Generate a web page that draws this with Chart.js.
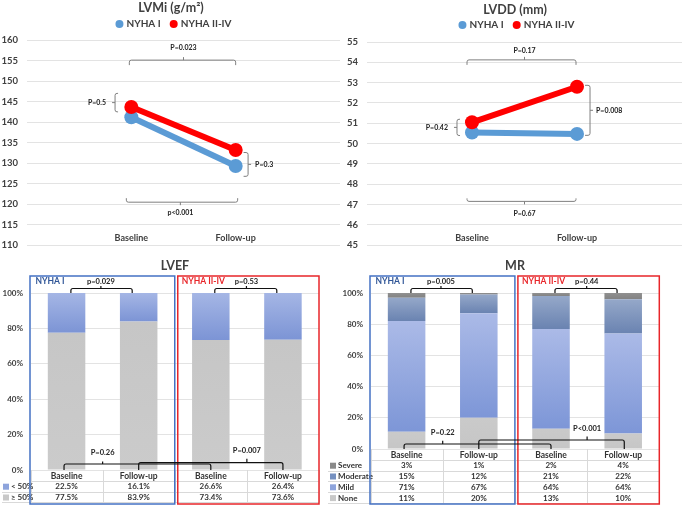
<!DOCTYPE html>
<html>
<head>
<meta charset="utf-8">
<script src="https://cdn.jsdelivr.net/npm/chart.js@4.4.1/dist/chart.umd.min.js"></script>
<style>
  body { margin: 0; background: #fff; width: 685px; height: 507px; position: relative; overflow: hidden; }
  canvas { position: absolute; }
</style>
</head>
<body>
<canvas id="lvmi" style="left:0;top:0" width="340" height="260"></canvas>
<canvas id="lvdd" style="left:340px;top:0" width="345" height="260"></canvas>
<canvas id="lvef" style="left:0;top:250px" width="340" height="257"></canvas>
<canvas id="mr" style="left:325px;top:250px" width="360" height="257"></canvas>
<script>
const FONT = 'Lato, "Open Sans", Arial, sans-serif';
const INK = '#404040';

// line charts
const timePoints = ['Baseline', 'Follow-up'];
const seriesNames = ['NYHA I', 'NYHA II-IV'];
const seriesColors = ['#5b9bd5', '#ff0000'];
const lvmiNyhaI = [141.2, 129.3];
const lvmiNyhaII = [143.7, 133.2];
const lvmiTicks = [110, 115, 120, 125, 130, 135, 140, 145, 150, 155, 160];
const lvmiP = ['P=0.023', 'p<0.001', 'P=0.5', 'P=0.3'];
const lvddNyhaI = [50.55, 50.48];
const lvddNyhaII = [51.05, 52.8];
const lvddTicks = [45, 46, 47, 48, 49, 50, 51, 52, 53, 54, 55];
const lvddP = ['P=0.17', 'P=0.67', 'P=0.42', 'P=0.008'];

// stacked bars
const barCategories = ['Baseline', 'Follow-up', 'Baseline', 'Follow-up'];
const barGroups = ['NYHA I', 'NYHA II-IV'];
const pctTicks = [0, 20, 40, 60, 80, 100];
const lvefRows = ['< 50%', '≥ 50%'];
const lvefBelow50 = [22.5, 16.1, 26.6, 26.4];
const lvefAbove50 = [77.5, 83.9, 73.4, 73.6];
const lvefP = ['p=0.029', 'p=0.53', 'P=0.26', 'P=0.007'];
const mrRows = ['Severe', 'Moderate', 'Mild', 'None'];
const mrSevere = [3, 1, 2, 4];
const mrModerate = [15, 12, 21, 22];
const mrMild = [71, 67, 64, 64];
const mrNone = [11, 20, 13, 10];
const mrP = ['p=0.005', 'p=0.44', 'P=0.22', 'P<0.001'];

function brace(ctx, horiz, a1, a2, line, end, tipAt, tip) {
  const P = (u, v) => horiz ? [u, v] : [v, u];
  ctx.beginPath();
  ctx.moveTo(...P(a1, end));
  ctx.arcTo(...P(a1, line), ...P(tipAt, line), 2);
  ctx.arcTo(...P(a2, line), ...P(a2, end), 2);
  ctx.lineTo(...P(a2, end));
  ctx.moveTo(...P(tipAt, line));
  ctx.lineTo(...P(tipAt, tip));
  ctx.stroke();
}

function drawNote(chart, n) {
  const { ctx, scales: { x, y } } = chart;
  const px = v => x.getPixelForValue(v), py = v => y.getPixelForValue(v);
  const da = n.da || [0, 0];
  let a1, a2, line, tipAt;
  if (n.h) {
    a1 = px(n.a[0]) + da[0]; a2 = px(n.a[1]) + da[1];
    line = py(n.at) + (n.dat || 0);
    tipAt = px(n.tipAt);
  } else {
    a1 = py(n.a[0]); a2 = py(n.a[1]);
    line = px(n.at);
    tipAt = (a1 + a2) / 2;
  }
  brace(ctx, n.h, a1, a2, line, line + n.end, tipAt, line + n.tip);
  ctx.textAlign = n.align || 'center';
  ctx.textBaseline = 'middle';
  if (n.h) ctx.fillText(n.t, tipAt, line + n.tdy);
  else ctx.fillText(n.t, line + n.tdx, tipAt);
}

function lineDecor(title, notes, geo) {
  return {
    id: 'lineDecor',
    afterDraw(chart) {
      const { ctx, scales: { x } } = chart;
      ctx.save();
      ctx.fillStyle = INK;
      ctx.textAlign = 'center';
      ctx.textBaseline = 'middle';
      ctx.font = 'bold 12.5px ' + FONT;
      ctx.fillText(title, geo.titleX, geo.titleY);

      // legend
      ctx.font = 'bold 10px ' + FONT;
      const w = seriesNames.map(s => ctx.measureText(s).width);
      const total = w[0] + w[1] + 2 * 12 + 8;
      let lx = geo.legendX - total / 2;
      seriesNames.forEach((s, i) => {
        ctx.fillStyle = seriesColors[i];
        ctx.beginPath();
        ctx.arc(lx + 4, geo.legendY, 4, 0, Math.PI * 2);
        ctx.fill();
        ctx.fillStyle = INK;
        ctx.textAlign = 'left';
        ctx.fillText(s, lx + 11, geo.legendY);
        lx += 12 + w[i] + 8;
      });

      // category labels inside plot
      ctx.textAlign = 'center';
      ctx.font = 'bold 9px ' + FONT;
      timePoints.forEach((c, i) => ctx.fillText(c, x.getPixelForValue(i + 1), geo.labelY));

      // p-value braces
      ctx.strokeStyle = '#7f7f7f';
      ctx.lineWidth = 1;
      ctx.fillStyle = '#222';
      ctx.font = 'bold 7px ' + FONT;
      notes.forEach(n => drawNote(chart, n));
      ctx.restore();
    }
  };
}

function lineChart(id, title, ticks, s1, s2, notes, geo) {
  new Chart(document.getElementById(id), {
    type: 'line',
    data: {
      labels: ['', ...timePoints, ''],
      datasets: [s1, s2].map((s, i) => ({
        label: seriesNames[i],
        data: [null, ...s, null],
        order: 1 - i,
        borderColor: seriesColors[i],
        backgroundColor: seriesColors[i],
        borderWidth: 6,
        pointRadius: 7,
        pointHoverRadius: 7,
        pointBorderWidth: 0
      }))
    },
    options: {
      responsive: false,
      animation: false,
      layout: { autoPadding: false, padding: { top: geo.top, bottom: geo.bottom, right: geo.right, left: 0 } },
      plugins: { legend: { display: false }, title: { display: false }, tooltip: { enabled: false } },
      scales: {
        x: { display: false, offset: false },
        y: {
          min: ticks[0],
          max: ticks[ticks.length - 1],
          afterFit: s => { s.width = geo.left; },
          afterBuildTicks: s => { s.ticks = ticks.map(v => ({ value: v })); },
          border: { display: false },
          grid: { color: '#e3e3e3', drawTicks: false },
          ticks: { padding: 9, color: INK, font: { family: FONT, size: 9.5, weight: 'bold' } }
        }
      }
    },
    plugins: [lineDecor(title, notes, geo)]
  });
}

lineChart('lvmi', 'LVMi (g/m²)', lvmiTicks, lvmiNyhaI, lvmiNyhaII, [
  { t: lvmiP[0], h: 1, a: [1, 2], da: [-2, 0], at: 155.1, end: 5, tip: -3, tipAt: 1.5, tdy: -12 },
  { t: lvmiP[1], h: 1, a: [1, 2], da: [-5, 2], at: 120.5, end: -4, tip: 3, tipAt: 1.47, tdy: 11 },
  { t: lvmiP[2], h: 0, a: [147, 142.5], at: 0.844, end: 3, tip: -3, tdx: -9, align: 'right' },
  { t: lvmiP[3], h: 0, a: [132.6, 126.8], at: 2.119, end: -4.5, tip: 3, tdx: 7, align: 'left' }
], { left: 27, right: 0, top: 40, bottom: 5, titleX: 171, titleY: 8, legendX: 174, legendY: 24, labelY: 238 });

lineChart('lvdd', 'LVDD (mm)', lvddTicks, lvddNyhaI, lvddNyhaII, [
  { t: lvddP[0], h: 1, a: [1, 2], da: [-5, -1], at: 54.12, end: 5, tip: -3, tipAt: 1.5, tdy: -9.5 },
  { t: lvddP[1], h: 1, a: [1, 2], da: [-5, -1], at: 47.16, end: -3, tip: 3, tipAt: 1.5, tdy: 12 },
  { t: lvddP[2], h: 0, a: [51.2, 50.4], at: 0.857, end: 3, tip: -3, tdx: -9, align: 'right' },
  { t: lvddP[3], h: 0, a: [52.87, 50.41], at: 2.124, end: -5, tip: 3, tdx: 6, align: 'left' }
], { left: 27, right: 3, top: 42, bottom: 3, titleX: 175, titleY: 9.5, legendX: 177, legendY: 25, labelY: 238 });

function segFill(top, bottom) {
  return c => {
    const chart = c.chart, area = chart.chartArea;
    if (!area || c.type !== 'data') return bottom;
    const ys = chart.scales.y;
    let base = 0;
    for (let d = 0; d < c.datasetIndex; d++) base += chart.data.datasets[d].data[c.dataIndex];
    const v = chart.data.datasets[c.datasetIndex].data[c.dataIndex];
    const y0 = ys.getPixelForValue(base), y1 = ys.getPixelForValue(base + v);
    if (!isFinite(y0) || !isFinite(y1) || y0 === y1) return bottom;
    const g = chart.ctx.createLinearGradient(0, y1, 0, y0);
    g.addColorStop(0, top);
    g.addColorStop(1, bottom);
    return g;
  };
}

function stackDecor(title, rows, values, fills, notes, digits, geo) {
  return {
    id: 'stackDecor',
    afterDraw(chart) {
      const { ctx, chartArea: ca, scales: { x } } = chart;
      const px = v => x.getPixelForValue(v);
      ctx.save();
      ctx.textBaseline = 'middle';
      ctx.textAlign = 'center';
      ctx.fillStyle = INK;
      ctx.font = 'bold 12.5px ' + FONT;
      ctx.fillText(title, geo.titleX, 16);

      // table
      const rh = 10.8, top = ca.bottom, n = rows.length + 1;
      ctx.strokeStyle = '#d9d9d9';
      ctx.lineWidth = 1;
      ctx.beginPath();
      for (let r = 1; r <= n; r++) {
        const yy = Math.round(top + r * rh) + 0.5;
        ctx.moveTo(r === 1 ? ca.left : geo.rowX0, yy);
        ctx.lineTo(ca.right, yy);
      }
      for (let i = 0; i <= 4; i++) {
        const xx = Math.round(px(i - 0.5)) + 0.5;
        ctx.moveTo(xx, top);
        ctx.lineTo(xx, top + n * rh);
      }
      ctx.stroke();

      ctx.fillStyle = '#333';
      ctx.font = 'bold 8.5px ' + FONT;
      barCategories.forEach((c, i) => ctx.fillText(c, px(i), top + rh / 2 + 0.5));
      ctx.font = 'bold 8px ' + FONT;
      rows.forEach((r, k) => {
        const yy = top + (k + 1.5) * rh + 0.5;
        values[k].forEach((v, i) => ctx.fillText(v.toFixed(digits) + '%', px(i), yy));
        ctx.fillStyle = fills[k][2];
        ctx.fillRect(geo.sqX, yy - 3, 6, 6);
        ctx.fillStyle = '#333';
        ctx.textAlign = 'left';
        ctx.fillText(r, geo.sqX + 8, yy);
        ctx.textAlign = 'center';
      });

      // group boxes
      const mid = px(1.5);
      const boxTop = 26, boxBot = 254;
      ctx.lineWidth = 1.5;
      ctx.strokeStyle = '#4472c4';
      ctx.strokeRect(ca.left - 0.5, boxTop, mid - ca.left + 0.5, boxBot - boxTop);
      ctx.strokeStyle = '#e8262a';
      ctx.strokeRect(mid + 3, boxTop, ca.right - mid - 3, boxBot - boxTop);
      ctx.textAlign = 'left';
      ctx.font = 'bold 8.5px ' + FONT;
      ctx.fillStyle = '#2f5597';
      ctx.fillText(barGroups[0], ca.left + 5, 31.5);
      ctx.fillStyle = '#e8262a';
      ctx.fillText(barGroups[1], mid + 7, 31.5);

      // braces
      ctx.strokeStyle = '#111';
      ctx.lineWidth = 1.2;
      ctx.fillStyle = '#222';
      ctx.font = 'bold 7.5px ' + FONT;
      notes.forEach(nt => drawNote(chart, nt));
      ctx.restore();
    }
  };
}

function stackChart(id, title, rows, values, fills, notes, digits, geo) {
  const order = rows.map((r, i) => i).reverse();
  new Chart(document.getElementById(id), {
    type: 'bar',
    data: {
      labels: barCategories,
      datasets: order.map(i => ({
        label: rows[i],
        data: values[i],
        backgroundColor: segFill(fills[i][0], fills[i][1]),
        borderWidth: 0,
        barPercentage: 0.52,
        categoryPercentage: 1
      }))
    },
    options: {
      responsive: false,
      animation: false,
      layout: { padding: { top: geo.top, bottom: geo.bottom, right: geo.right, left: 0 } },
      plugins: { legend: { display: false }, title: { display: false }, tooltip: { enabled: false } },
      scales: {
        x: { display: false, stacked: true },
        y: {
          stacked: true,
          min: 0,
          max: 100,
          afterFit: s => { s.width = geo.left; },
          afterBuildTicks: s => { s.ticks = pctTicks.map(v => ({ value: v })); },
          border: { display: false },
          grid: { color: '#e3e3e3', drawTicks: false },
          ticks: { padding: 7.5, color: INK, callback: v => v + '%', font: { family: FONT, size: 8, weight: 'bold' } }
        }
      }
    },
    plugins: [stackDecor(title, rows, values, fills, notes, digits, geo)]
  });
}

const topNotes = p => [
  { t: p[0], h: 1, a: [0.06, 0.91], at: 100, dat: -4.5, end: 4.5, tip: -2.5, tipAt: 0.476, tdy: -7 },
  { t: p[1], h: 1, a: [2.055, 2.915], at: 100, dat: -4.5, end: 4.5, tip: -2.5, tipAt: 2.494, tdy: -7 }
];

stackChart('lvef', 'LVEF', lvefRows, [lvefBelow50, lvefAbove50], [
  ['#a5b6e5', '#7c94d5', '#8ea4dc'],
  ['#c6c6c6', '#cbcbcb', '#c8c8c8']
], [
  ...topNotes(lvefP),
  { t: lvefP[2], h: 1, a: [-0.035, 2], at: 0, dat: -6, end: 6, tip: -2.5, tipAt: 0.5, tdy: -11 },
  { t: lvefP[3], h: 1, a: [1, 3], at: 0, dat: -7.3, end: 7.3, tip: -4, tipAt: 2.5, tdy: -12.5 }
], 1, { left: 30.5, right: 21, top: 43, bottom: 37, titleX: 175, rowX0: 2, sqX: 3 });

stackChart('mr', 'MR', mrRows, [mrSevere, mrModerate, mrMild, mrNone], [
  ['#909090', '#828282', '#8a8a8a'],
  ['#95a8c9', '#6a83b1', '#7590c0'],
  ['#abbae7', '#7d96d7', '#8ea4dc'],
  ['#cacaca', '#c6c6c6', '#c8c8c8']
], [
  ...topNotes(mrP),
  { t: mrP[2], h: 1, a: [-0.035, 2], at: 0, dat: -5, end: 5, tip: -3.3, tipAt: 0.5, tdy: -11 },
  { t: mrP[3], h: 1, a: [1, 3.015], at: 0, dat: -9, end: 9, tip: -3.5, tipAt: 2.5, tdy: -11.5 }
], 0, { left: 45.5, right: 25.7, top: 43, bottom: 58, titleX: 190, rowX0: 3, sqX: 5 });
</script>
</body>
</html>
